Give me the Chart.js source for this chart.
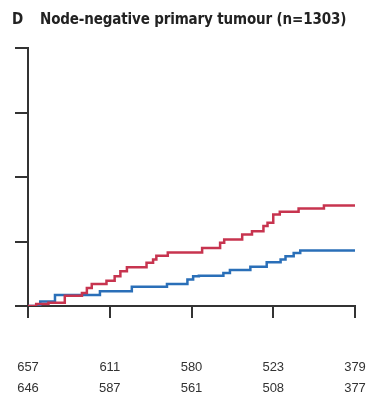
<!DOCTYPE html>
<html>
<head>
<meta charset="utf-8">
<script src="https://cdn.jsdelivr.net/npm/chart.js@4.4.1/dist/chart.umd.min.js"></script>
<style>
  html, body { margin: 0; padding: 0; background: #fff; }
  #wrap { position: relative; width: 370px; height: 402px; }
  #title { position: absolute; left: 12px; top: 10px; font: bold 15px "DejaVu Sans Condensed", "Liberation Sans Narrow", sans-serif; color: #222; white-space: nowrap; letter-spacing: -0.15px; }
  #title span { margin-right: 17px; }
  canvas { position: absolute; left: 0; top: 0; }
</style>
</head>
<body>
<div id="wrap">
  <canvas id="kmChart" width="370" height="402"></canvas>
  <div id="title"><span>D</span>Node-negative primary tumour (n=1303)</div>
</div>
<script>
// time in years, cumulative incidence
const redTimes  = [0, 0.1, 0.25, 0.45, 0.66, 0.72, 0.78, 0.96, 1.06, 1.13, 1.21, 1.45, 1.53, 1.57, 1.71, 2.13, 2.35, 2.4, 2.62, 2.74, 2.88, 2.93, 3.0, 3.08, 3.31, 3.62, 4.0];
const redValues = [0, 0.3, 0.5, 1.6, 2.0, 2.8, 3.4, 3.9, 4.6, 5.4, 6.0, 6.7, 7.2, 7.8, 8.3, 9.0, 9.8, 10.3, 11.1, 11.6, 12.4, 12.9, 14.2, 14.6, 15.1, 15.6, 15.6];

const blueTimes  = [0, 0.15, 0.33, 0.88, 1.27, 1.7, 1.95, 2.02, 2.09, 2.39, 2.47, 2.72, 2.92, 3.09, 3.15, 3.25, 3.33, 4.0];
const blueValues = [0, 0.7, 1.7, 2.3, 3.0, 3.4, 4.1, 4.6, 4.7, 5.1, 5.6, 6.1, 6.8, 7.2, 7.7, 8.2, 8.6, 8.6];

const xTicks = [0, 1, 2, 3, 4];
const atRiskRow1 = ['657', '611', '580', '523', '379'];
const atRiskRow2 = ['646', '587', '561', '508', '377'];

const axisColor = '#333';

function toPoints(xs, ys) {
    return xs.map((x, i) => ({ x: x, y: ys[i] }));
}

const ctx = document.getElementById('kmChart').getContext('2d');
const kmChart = new Chart(ctx, {
    type: 'line',
    data: {
        datasets: [
            {
                label: 'Red',
                data: toPoints(redTimes, redValues),
                borderColor: '#c7344f',
                borderWidth: 2.5,
                pointRadius: 0,
                stepped: 'before',
                fill: false
            },
            {
                label: 'Blue',
                data: toPoints(blueTimes, blueValues),
                borderColor: '#2a6fb8',
                borderWidth: 2.5,
                pointRadius: 0,
                stepped: 'before',
                fill: false
            }
        ]
    },
    options: {
        responsive: false,
        animation: false,
        layout: { padding: { top: 48, right: 15, left: 0, bottom: 0 } },
        plugins: {
            legend: { display: false },
            tooltip: { enabled: false }
        },
        scales: {
            x: {
                type: 'linear',
                min: 0,
                max: 4,
                afterBuildTicks: scale => { scale.ticks = xTicks.map(v => ({ value: v })); },
                afterFit: scale => {
                    scale.height = 96;
                    // don't let the label padding squeeze the plot sideways
                    scale.paddingLeft = 0;
                    scale.paddingRight = 0;
                },
                border: { color: axisColor, width: 2 },
                grid: { drawOnChartArea: false, drawTicks: true, tickLength: 12, color: axisColor, lineWidth: 2 },
                ticks: {
                    padding: 39,
                    maxRotation: 0,
                    color: '#333',
                    font: { family: 'Liberation Sans', size: 13, lineHeight: 1.6 },
                    callback: (value, index) => [atRiskRow1[index], atRiskRow2[index]]
                }
            },
            y: {
                min: 0,
                max: 40,
                afterFit: scale => { scale.width = 28; },
                border: { color: axisColor, width: 2 },
                grid: { drawOnChartArea: false, drawTicks: true, tickLength: 13, color: axisColor, lineWidth: 2 },
                ticks: { stepSize: 10, display: false }
            }
        }
    }
});
</script>
</body>
</html>
